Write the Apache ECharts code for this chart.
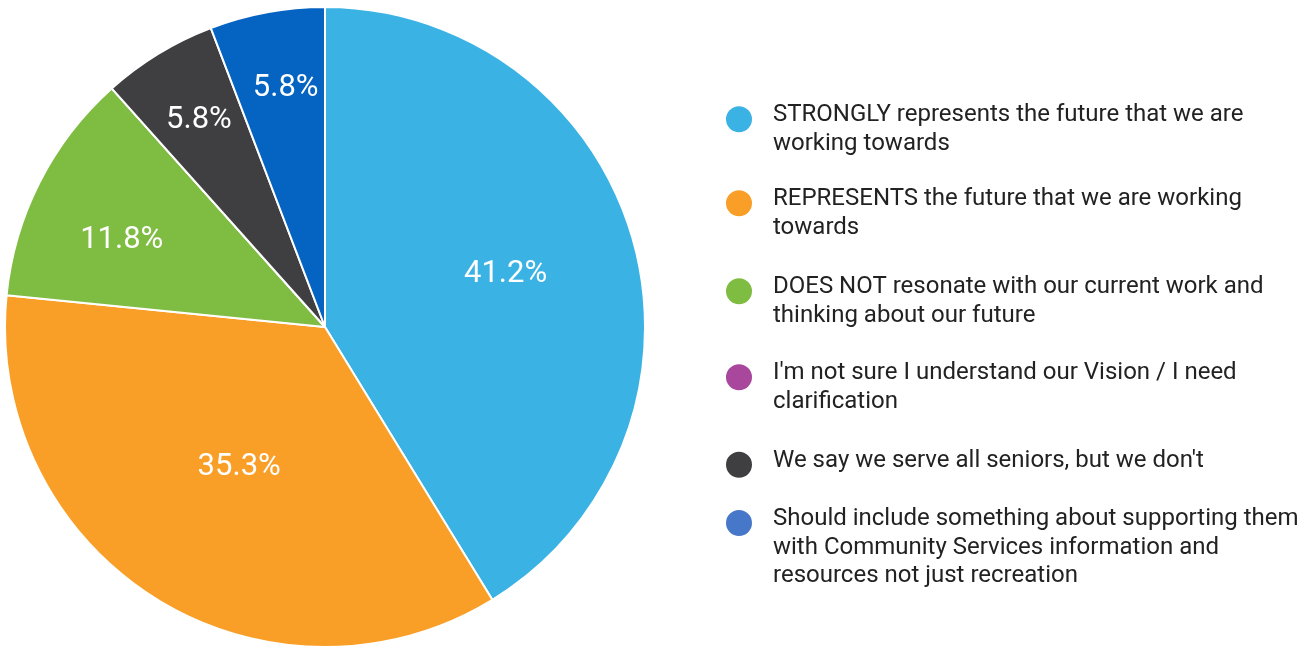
<!DOCTYPE html>
<html>
<head>
<meta charset="utf-8">
<script src="https://cdn.jsdelivr.net/npm/echarts@6/dist/echarts.min.js"></script>
<style>
  html, body { margin: 0; padding: 0; background: #ffffff; }
  #chart { width: 1311px; height: 648px; }
</style>
</head>
<body>
<div id="chart"></div>
<script>
// Survey responses: how well the Vision statement fits
const categories = [
  'STRONGLY represents the future that we are\nworking towards',
  'REPRESENTS the future that we are working\ntowards',
  'DOES NOT resonate with our current work and\nthinking about our future',
  "I'm not sure I understand our Vision / I need\nclarification",
  "We say we serve all seniors, but we don't",
  'Should include something about supporting them\nwith Community Services information and\nresources not just recreation'
];
const shares = [41.2, 35.3, 11.8, 0, 5.8, 5.8];

const sliceColors = ['#3bb2e4', '#f99f27', '#7fbc42', '#a8479c', '#3f3f42', '#0563c1'];
const dotColors = ['#3bb2e4', '#f99f27', '#7fbc42', '#a8479c', '#3f3f42', '#4677c8'];

// label placement: distance from centre (share of radius) and a small turn in degrees
const labelRadius = [0.591, 0.505, 0.695, 0.5, 0.764, 0.765];
const labelTurn = [-1.5, 0, -3, 0, 0.3, 1.2];

const CX = 325, CY = 327, R = 320;
const LINE_H = 28.5;
const LIFT = 8;   // first text line sits a little above its dot
const FONT = 'Roboto, "Noto Sans", sans-serif';

// vertical centre of each legend dot
const dotCentres = [120, 204, 292, 378, 464.5, 522];
// distance from a legend box's top edge to its dot, by number of text lines
const dotDrop = [0, 15.75, 29.75, 42.25];

const total = shares.reduce((a, b) => a + b, 0);
const midAngles = [];
{
  let acc = 0;
  shares.forEach((v, i) => {
    midAngles.push((acc + v / 2) / total * 2 * Math.PI + labelTurn[i] * Math.PI / 180);
    acc += v;
  });
}

const pieData = categories.map((name, i) => ({
  name,
  value: shares[i],
  itemStyle: { color: sliceColors[i] }
}));

// one legend per entry so each dot lines up with the first line of its text
const legends = categories.map((name, i) => {
  const lines = name.split('\n');
  const n = lines.length;
  const text = n === 1
    ? '{t|' + lines[0] + '}\n{e| }'
    : '{e| }\n' + lines.map(s => '{t|' + s + '}').join('\n');
  return {
    orient: 'vertical',
    left: 724,
    top: dotCentres[i] - dotDrop[n],
    padding: 0,
    itemWidth: 28,
    itemHeight: 28,
    icon: 'circle',
    selectedMode: false,
    data: [{ name, itemStyle: { color: dotColors[i] } }],
    formatter: () => text,
    textStyle: {
      fontFamily: FONT,
      fontSize: 24,
      color: '#222222',
      padding: [0, 0, 0, 15],
      rich: {
        t: { fontFamily: FONT, fontSize: 24, color: '#222222', lineHeight: LINE_H },
        e: {
          fontFamily: FONT,
          fontSize: 1,
          lineHeight: n === 1 ? LIFT : (n - 1) * LINE_H - LIFT
        }
      }
    }
  };
});

const chart = echarts.init(document.getElementById('chart'), null, { renderer: 'canvas' });
chart.setOption({
  backgroundColor: '#ffffff',
  animation: false,
  legend: legends,
  series: [{
    type: 'pie',
    center: [CX, CY],
    radius: [0, R],
    startAngle: 90,
    clockwise: true,
    avoidLabelOverlap: false,
    silent: true,
    itemStyle: { borderColor: '#ffffff', borderWidth: 2 },
    label: {
      show: true,
      position: 'inside',
      color: '#ffffff',
      fontFamily: FONT,
      fontSize: 31,
      formatter: p => (p.value > 0 ? p.value.toFixed(1) + '%' : '')
    },
    labelLine: { show: false },
    labelLayout: p => {
      const i = p.dataIndex;
      const a = midAngles[i];
      const d = labelRadius[i] * R;
      return {
        x: CX + d * Math.sin(a),
        y: CY - d * Math.cos(a) + 3,
        align: 'center',
        verticalAlign: 'middle'
      };
    },
    data: pieData
  }]
});
</script>
</body>
</html>
